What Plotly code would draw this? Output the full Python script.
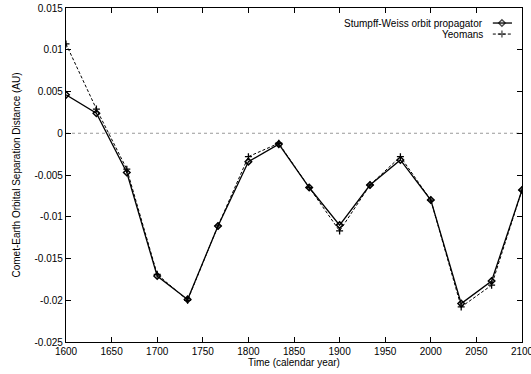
import plotly.graph_objects as go

# Epochs (calendar year), one third of a century apart
years = [1600, 1633.33, 1666.67, 1700, 1733.33, 1766.67, 1800, 1833.33,
         1866.67, 1900, 1933.33, 1966.67, 2000, 2033.33, 2066.67, 2100]

# Comet-Earth orbital separation distance (AU)
stumpff_weiss = [0.0046, 0.0024, -0.0047, -0.0171, -0.0199, -0.0111, -0.0034,
                 -0.0013, -0.0065, -0.0110, -0.0062, -0.0032, -0.0080,
                 -0.0204, -0.0177, -0.0068]
yeomans = [0.0107, 0.0029, -0.0043, -0.0169, -0.0200, -0.0111, -0.0028,
           -0.0012, -0.0065, -0.0117, -0.0062, -0.0028, -0.0080,
           -0.0208, -0.0182, -0.0068]

series_names = ["Stumpff-Weiss orbit propagator", "Yeomans"]

x_ticks = [1600, 1650, 1700, 1750, 1800, 1850, 1900, 1950, 2000, 2050, 2100]
y_ticks = [-0.025, -0.02, -0.015, -0.01, -0.005, 0, 0.005, 0.01, 0.015]
y_tick_text = ["-0.025", "-0.02", "-0.015", "-0.01", "-0.005", "0",
               "0.005", "0.01", "0.015"]

FONT = "Liberation Sans, Arial, Helvetica, sans-serif"

fig = go.Figure()

fig.add_trace(go.Scatter(
    x=years, y=yeomans, mode="lines+markers", name=series_names[1],
    line=dict(color="black", width=1, dash="3px,2px"),
    marker=dict(symbol="cross-thin-open", size=5,
                line=dict(color="black", width=1.3)),
    showlegend=False,
))
fig.add_trace(go.Scatter(
    x=years, y=stumpff_weiss, mode="lines+markers", name=series_names[0],
    line=dict(color="black", width=1.3),
    marker=dict(symbol="diamond-open", size=5,
                line=dict(color="black", width=1.5)),
    showlegend=False,
))

# Key samples drawn on an overlay axis spanning the plot area (0..1)
key_rows = [0.955, 0.922]
key_x = [0.936, 0.956, 0.978]
fig.add_trace(go.Scatter(
    x=key_x, y=[key_rows[0]] * 3, xaxis="x2", yaxis="y2",
    mode="lines+markers", showlegend=False, hoverinfo="skip",
    line=dict(color="black", width=1.3),
    marker=dict(symbol="diamond-open", size=[0, 5, 0],
                line=dict(color="black", width=1.5)),
))
fig.add_trace(go.Scatter(
    x=key_x, y=[key_rows[1]] * 3, xaxis="x2", yaxis="y2",
    mode="lines+markers", showlegend=False, hoverinfo="skip",
    line=dict(color="black", width=1, dash="3px,2px"),
    marker=dict(symbol="cross-thin-open", size=[0, 5, 0],
                line=dict(color="black", width=1.3)),
))
for name, row in zip(series_names, key_rows):
    fig.add_annotation(
        x=0.919, y=row, xref="x2", yref="y2", text=name,
        showarrow=False, xanchor="right", yanchor="middle",
        font=dict(family=FONT, size=10, color="black"),
    )

# Dotted zero line
fig.add_shape(type="line", xref="x domain", yref="y", x0=0, x1=1, y0=0, y1=0,
              line=dict(color="#999999", width=1, dash="dot"), layer="below")

axis_common = dict(
    showgrid=False, zeroline=False, showline=True, linecolor="black",
    linewidth=1.3, mirror="ticks", ticks="inside", ticklen=5,
    tickcolor="black", tickwidth=1, automargin=False,
    ticklabeloverflow="allow",
    tickfont=dict(family=FONT, size=10, color="black"),
)

fig.update_layout(
    width=531, height=374,
    margin=dict(l=66, r=9, t=8, b=32),
    paper_bgcolor="white", plot_bgcolor="white",
    font=dict(family=FONT, size=10, color="black"),
    xaxis=dict(range=[1600, 2100], tickvals=x_ticks,
               title=dict(text="Time (calendar year)", standoff=0,
                          font=dict(family=FONT, size=10)),
               **axis_common),
    yaxis=dict(range=[-0.025, 0.015], tickvals=y_ticks, ticktext=y_tick_text,
               title=dict(text="Comet-Earth Orbital Separation Distance (AU)",
                          standoff=11, font=dict(family=FONT, size=10)),
               **axis_common),
    xaxis2=dict(range=[0, 1], overlaying="x", visible=False, fixedrange=True),
    yaxis2=dict(range=[0, 1], overlaying="y", visible=False, fixedrange=True),
)

fig.write_html("out.html")
